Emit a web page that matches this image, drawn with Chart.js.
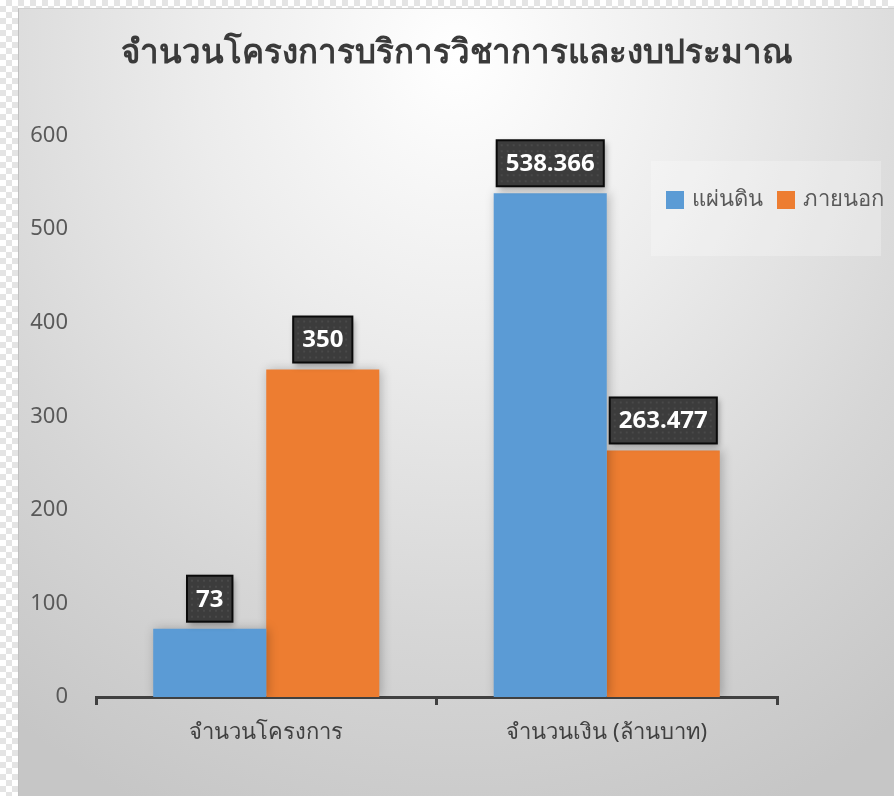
<!DOCTYPE html>
<html>
<head>
<meta charset="utf-8">
<script src="https://cdn.jsdelivr.net/npm/chart.js@4.4.1/dist/chart.umd.min.js"></script>
<style>
  html, body { margin: 0; padding: 0; }
  body {
    width: 894px; height: 796px; overflow: hidden;
    background-color: #ffffff;
    background-image: conic-gradient(#e4e4e4 25%, #ffffff 0 50%, #e4e4e4 0 75%, #ffffff 0);
    background-size: 12px 12px;
  }
  #panel {
    position: absolute; left: 18px; top: 8px; width: 876px; height: 788px;
    background: radial-gradient(ellipse 85% 105% at 50% 6%, #ffffff 0%, #ececec 35%, #d6d6d6 70%, #c6c6c6 100%);
    border-left: 1px solid #c0c0c0;
    border-top: 1px solid #d0d0d0;
    box-sizing: border-box;
  }
  canvas { position: absolute; left: 0; top: 0; }
</style>
</head>
<body>
<div id="panel"><canvas id="chart" width="876" height="788"></canvas></div>
<script>
// data
const categories = ["จำนวนโครงการ", "จำนวนเงิน (ล้านบาท)"];
const seriesNames = ["แผ่นดิน", "ภายนอก"];
const govValues = [73, 538.366];
const extValues = [350, 263.477];
const valueLabels = [["73", "538.366"], ["350", "263.477"]];
const yTicks = [0, 100, 200, 300, 400, 500, 600];

const colors = ["#5b9bd5", "#ed7d31"];
const font = "'Noto Sans', 'DejaVu Sans', sans-serif";

// dark label boxes above bars
const boxLabels = {
  id: "boxLabels",
  afterDatasetsDraw(chart) {
    const ctx = chart.ctx;
    ctx.save();
    ctx.font = "bold 24px " + font;
    ctx.textAlign = "center";
    ctx.textBaseline = "middle";
    chart.data.datasets.forEach((ds, di) => {
      chart.getDatasetMeta(di).data.forEach((bar, i) => {
        const txt = valueLabels[di][i];
        const w = ctx.measureText(txt).width + 18;
        const h = 46;
        const x = bar.x - w / 2;
        const y = bar.y - 7 - h;
        ctx.save();
        ctx.shadowColor = "rgba(0,0,0,0.35)";
        ctx.shadowBlur = 6;
        ctx.shadowOffsetX = 2;
        ctx.shadowOffsetY = 3;
        ctx.fillStyle = "#3c3c3c";
        ctx.fillRect(x, y, w, h);
        ctx.restore();
        // dotted texture
        ctx.fillStyle = "rgba(255,255,255,0.07)";
        for (let yy = y + 4; yy < y + h - 2; yy += 6) {
          for (let xx = x + 4; xx < x + w - 2; xx += 6) {
            ctx.fillRect(xx, yy, 2, 2);
          }
        }
        ctx.strokeStyle = "#0a0a0a";
        ctx.lineWidth = 2;
        ctx.strokeRect(x, y, w, h);
        ctx.fillStyle = "#ffffff";
        ctx.fillText(txt, bar.x, y + h / 2 + 1);
      });
    });
    ctx.restore();
  }
};

// legend inside plot, upper right
const innerLegend = {
  id: "innerLegend",
  afterDraw(chart, args, opts) {
    const ctx = chart.ctx;
    ctx.save();
    ctx.fillStyle = "rgba(255,255,255,0.25)";
    ctx.fillRect(opts.x, opts.y, opts.w, opts.h);
    ctx.font = "22px " + font;
    ctx.textBaseline = "middle";
    let cx = opts.x + 15;
    const cy = opts.y + 39;
    chart.data.datasets.forEach(ds => {
      ctx.fillStyle = ds.backgroundColor;
      ctx.fillRect(cx, cy - 9, 18, 18);
      cx += 26;
      ctx.fillStyle = "#595959";
      ctx.fillText(ds.label, cx, cy);
      cx += ctx.measureText(ds.label).width + 14;
    });
    ctx.restore();
  }
};

// bar shadow
const barShadow = {
  id: "barShadow",
  beforeDatasetsDraw(chart) {
    const ctx = chart.ctx;
    ctx.save();
    ctx.shadowColor = "rgba(0,0,0,0.25)";
    ctx.shadowBlur = 10;
    ctx.shadowOffsetX = 2;
    ctx.shadowOffsetY = 0;
  },
  afterDatasetsDraw(chart) {
    chart.ctx.restore();
  }
};

new Chart(document.getElementById("chart"), {
  type: "bar",
  data: {
    labels: categories,
    datasets: [
      { label: seriesNames[0], data: govValues, backgroundColor: colors[0] },
      { label: seriesNames[1], data: extValues, backgroundColor: colors[1] }
    ]
  },
  plugins: [barShadow, boxLabels, innerLegend],
  options: {
    responsive: false,
    animation: false,
    layout: { padding: { left: 0, right: 0, top: 0, bottom: 40 } },
    datasets: { bar: { categoryPercentage: 0.664, barPercentage: 1.0 } },
    plugins: {
      legend: { display: false },
      tooltip: { enabled: false },
      title: {
        display: true,
        text: "จำนวนโครงการบริการวิชาการและงบประมาณ",
        color: "#3a3a3a",
        font: { family: font, size: 33, weight: "bold" },
        padding: { top: 25, bottom: 62 }
      },
      innerLegend: { x: 632, y: 152, w: 230, h: 95 }
    },
    scales: {
      x: {
        offset: true,
        grid: {
          offset: true,
          drawOnChartArea: false,
          drawTicks: true,
          tickLength: 8,
          color: "#404040",
          lineWidth: 3
        },
        border: { display: true, color: "#404040", width: 3 },
        ticks: {
          color: "#404040",
          padding: 15,
          font: { family: font, size: 22 }
        },
        afterFit(scale) { scale.height = 60; }
      },
      y: {
        min: 0,
        max: 600,
        grid: { display: false, drawTicks: false },
        border: { display: false },
        afterBuildTicks(scale) { scale.ticks = yTicks.map(v => ({ value: v })); },
        ticks: {
          color: "#595959",
          padding: 28,
          font: { family: font, size: 22 }
        },
        afterFit(scale) { scale.width = 77; }
      },
      // empty right-hand space so the title centres on the whole panel
      yRight: {
        position: "right",
        grid: { display: false, drawTicks: false },
        border: { display: false },
        ticks: { display: false },
        afterFit(scale) { scale.width = 118; }
      }
    }
  }
});
</script>
</body>
</html>
